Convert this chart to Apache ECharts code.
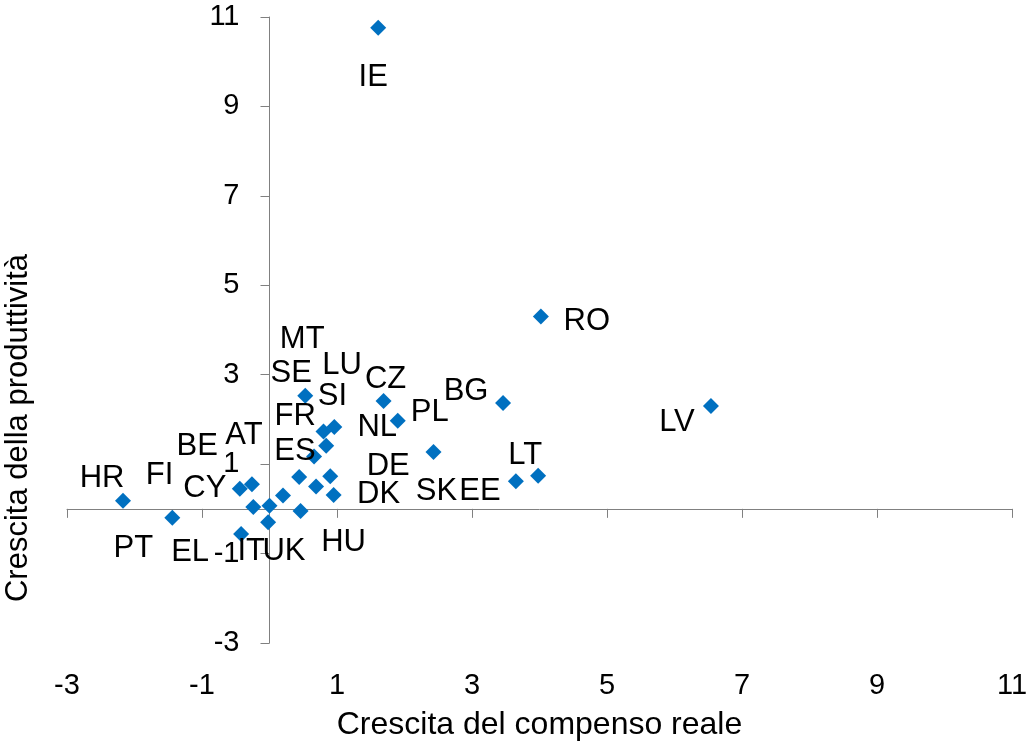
<!DOCTYPE html>
<html>
<head>
<meta charset="utf-8">
<script src="https://cdn.jsdelivr.net/npm/echarts@6/dist/echarts.min.js"></script>
<style>
html,body{margin:0;padding:0;background:#fff;}
#chart{width:1033px;height:742px;}
</style>
</head>
<body>
<div id="chart"></div>
<script>
// Data
const countries = ['HR','PT','CY','AT','EL','BE','FI','IT','UK','HU','MT','LU','DE','DK','ES','FR','SI','NL','SE','CZ','PL','SK','BG','EE','LT','RO','LV','IE'];
const compGrowth = [-2.17,-1.44,-0.44,-0.26,-0.42,-0.24,0.00,-0.02,0.20,0.46,0.44,0.69,0.90,0.95,0.66,0.84,0.80,0.96,0.53,1.69,1.90,2.43,3.46,3.65,3.98,4.02,6.54,1.61];
const prodGrowth = [0.18,-0.20,0.45,0.55,-0.56,0.04,0.07,-0.30,0.30,-0.05,0.71,0.50,0.73,0.31,1.17,1.41,1.73,1.83,2.53,2.41,1.97,1.27,2.37,0.62,0.74,4.30,2.30,10.76];
const xTicks = {min:-3, max:11, interval:2};
const yTicks = {min:-3, max:11, interval:2};

// Layout: label offsets in pixels (placement only)
const labelOffsets = [[-21,-26],[-39,27],[-35,-4],[-8,-53],[-51,15],[-56,-65],[-110,-34],[-17,25],[1,52],[43,27],[3,-142],[26,-125],[58,-14],[45,-5],[-19,-9],[-31,-33],[9,-39],[43,-4],[-14,-26],[2,-26],[32,-12],[3,35],[-37,-15],[-36,6],[-13,-24],[46,1],[-34,12],[-5,46]];
const LABEL_DY = 4;

const FONT = '"Liberation Sans", Arial, sans-serif';
const axisColor = '#808080';
const GRID = { left: 67, right: 21, top: 17, bottom: 99, containLabel: false, outerBoundsMode: 'none' };

const data = countries.map((c, i) => ({ name: c, value: [compGrowth[i], prodGrowth[i]] }));

const chart = echarts.init(document.getElementById('chart'), null, {renderer:'canvas'});

function buildOption(yOffset) {
  return {
    animation: false,
    grid: GRID,
    xAxis: [
      {
        type: 'value', min: xTicks.min, max: xTicks.max, interval: xTicks.interval,
        position: 'bottom',
        axisLine: { show: true, onZero: true, lineStyle: { color: axisColor, width: 1 } },
        axisTick: { show: true, length: 9, inside: false, lineStyle: { color: axisColor } },
        axisLabel: { show: false },
        splitLine: { show: false }
      },
      {
        type: 'value', min: xTicks.min, max: xTicks.max, interval: xTicks.interval,
        position: 'bottom',
        axisLine: { show: false, onZero: false },
        axisTick: { show: false },
        axisLabel: { show: true, margin: 28, color: '#000', fontSize: 29, fontFamily: FONT },
        splitLine: { show: false },
        name: 'Crescita del compenso reale',
        nameLocation: 'middle',
        nameGap: 66,
        nameTextStyle: { color: '#000', fontSize: 32, fontFamily: FONT }
      }
    ],
    yAxis: {
      type: 'value', min: yTicks.min, max: yTicks.max, interval: yTicks.interval,
      position: 'left',
      offset: yOffset,
      axisLine: { show: true, onZero: false, lineStyle: { color: axisColor, width: 1 } },
      axisTick: { show: true, length: 9, inside: false, lineStyle: { color: axisColor } },
      axisLabel: { show: true, margin: 30, color: '#000', fontSize: 29, fontFamily: FONT },
      splitLine: { show: false }
    },
    graphic: [{
      type: 'text',
      x: 18, y: 428,
      rotation: Math.PI / 2,
      style: {
        text: 'Crescita della produttività',
        fill: '#000',
        font: '31px ' + FONT,
        align: 'center',
        verticalAlign: 'middle'
      }
    }],
    series: [{
      type: 'scatter',
      xAxisIndex: 0,
      symbol: 'diamond',
      symbolSize: 16,
      itemStyle: { color: '#0070C0', opacity: 1 },
      label: {
        show: true,
        position: 'inside',
        formatter: p => p.name,
        color: '#000',
        textBorderWidth: 0,
        fontSize: 31,
        fontFamily: FONT
      },
      labelLayout: params => ({
        dx: labelOffsets[params.dataIndex][0],
        dy: labelOffsets[params.dataIndex][1] + LABEL_DY,
        hideOverlap: false,
        moveOverlap: null
      }),
      data: data
    }]
  };
}

chart.setOption(buildOption(0));
// place the y axis at x = 0 using the x scale
const zeroPx = chart.convertToPixel({ xAxisIndex: 0 }, 0);
chart.setOption(buildOption(-(zeroPx - GRID.left)));
</script>
</body>
</html>
